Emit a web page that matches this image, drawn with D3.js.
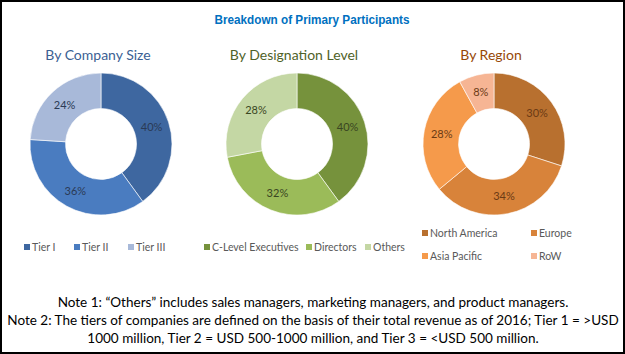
<!DOCTYPE html>
<html>
<head>
<meta charset="utf-8">
<script src="https://cdn.jsdelivr.net/npm/d3@7"></script>
<style>
  body { margin: 0; background: #fff; }
  svg { display: block; }
</style>
</head>
<body>
<svg id="chart" width="625" height="354"></svg>
<script>
// data
var sizeCats = ["Tier I", "Tier II", "Tier III"];
var sizeVals = [40, 36, 24];
var desigCats = ["C-Level Executives", "Directors", "Others"];
var desigVals = [40, 32, 28];
var regionCats = ["North America", "Europe", "Asia Pacific", "RoW"];
var regionVals = [30, 34, 28, 8];

var titleText = "Breakdown of Primary Participants";
var notes = [
  "Note 1: \u201cOthers\u201d includes sales managers, marketing managers, and product managers.",
  "Note 2: The tiers of companies are defined on the basis of their total revenue as of 2016; Tier 1 = >USD",
  "1000 million, Tier 2 = USD 500-1000 million, and Tier 3 = <USD 500 million."
];

var width = 625, height = 354;
var svg = d3.select("#chart");
var bodyFont = "Lato, 'Open Sans', sans-serif";

svg.append("rect")
    .attr("x", 1).attr("y", 1)
    .attr("width", width - 2).attr("height", height - 2)
    .attr("fill", "#fff")
    .attr("stroke", "#000")
    .attr("stroke-width", 2);

// main title, condensed to the width it has in the picture
svg.append("text")
    .attr("x", 312).attr("y", 24)
    .attr("text-anchor", "middle")
    .attr("textLength", 195)
    .attr("lengthAdjust", "spacingAndGlyphs")
    .style("font-family", "'Liberation Sans', Arial, sans-serif")
    .style("font-weight", "bold")
    .style("font-size", "12.5px")
    .attr("fill", "#0070C0")
    .text(titleText);

var charts = [
  {
    name: "By Company Size", cats: sizeCats, vals: sizeVals,
    cx: 101, cy: 144, titleColor: "#3B5F93", labelColor: "#2A3A55",
    colors: ["#3E67A0", "#4A7CC0", "#A8B9D9"],
    legend: [[24, 247], [74, 247], [128, 247]]
  },
  {
    name: "By Designation Level", cats: desigCats, vals: desigVals,
    cx: 297, cy: 144, titleColor: "#4F6228", labelColor: "#3A4622",
    colors: ["#76923C", "#9BBB59", "#C4D7A4"],
    legend: [[204, 247], [306, 247], [365, 247]]
  },
  {
    name: "By Region", cats: regionCats, vals: regionVals,
    cx: 494, cy: 144, titleColor: "#974806", labelColor: "#6B3A14",
    colors: ["#B8702F", "#D8833A", "#F59A4B", "#F6B594"],
    legend: [[422, 233], [531, 233], [422, 256], [531, 256]]
  }
];

var outerR = 71, innerR = 35.5;
var pie = d3.pie().sort(null).value(function(d) { return d; });
var arc = d3.arc().innerRadius(innerR).outerRadius(outerR);

charts.forEach(function(c) {
    svg.append("text")
        .attr("x", c.cx - 3).attr("y", 60)
        .attr("text-anchor", "middle")
        .style("font-family", bodyFont)
        .style("font-size", "14px")
        .attr("fill", c.titleColor)
        .text(c.name);

    var g = svg.append("g")
        .attr("transform", "translate(" + c.cx + "," + c.cy + ")");

    var arcs = pie(c.vals);

    g.selectAll("path")
        .data(arcs)
        .enter()
        .append("path")
        .attr("d", arc)
        .attr("fill", function(d, i) { return c.colors[i]; })
        .attr("stroke", "#fff")
        .attr("stroke-width", 0.6);

    g.selectAll("text")
        .data(arcs)
        .enter()
        .append("text")
        .attr("transform", function(d) { return "translate(" + arc.centroid(d) + ")"; })
        .attr("dy", "0.35em")
        .attr("text-anchor", "middle")
        .style("font-family", bodyFont)
        .style("font-size", "11px")
        .attr("fill", c.labelColor)
        .text(function(d) { return d.data + "%"; });

    var lg = svg.append("g");
    c.cats.forEach(function(cat, i) {
        var p = c.legend[i];
        lg.append("rect")
            .attr("x", p[0]).attr("y", p[1] - 3)
            .attr("width", 6).attr("height", 6)
            .attr("fill", c.colors[i]);
        lg.append("text")
            .attr("x", p[0] + 8).attr("y", p[1])
            .attr("dy", "0.35em")
            .style("font-family", bodyFont)
            .style("font-size", "10.5px")
            .attr("fill", "#595959")
            .text(cat);
    });
});

// notes below the charts
var noteG = svg.append("g");
var noteY = [307, 325, 343];
var noteText = noteG.selectAll("text")
    .data(notes)
    .enter()
    .append("text")
    .attr("x", 313)
    .attr("y", function(d, i) { return noteY[i]; })
    .attr("text-anchor", "middle")
    .style("font-family", bodyFont)
    .style("font-size", "13px")
    .attr("fill", "#000")
    .text(function(d) { return d; });
var nw = noteText.nodes()[1].getComputedTextLength();
noteText.style("font-size", (13 * 612 / nw) + "px");
</script>
</body>
</html>
